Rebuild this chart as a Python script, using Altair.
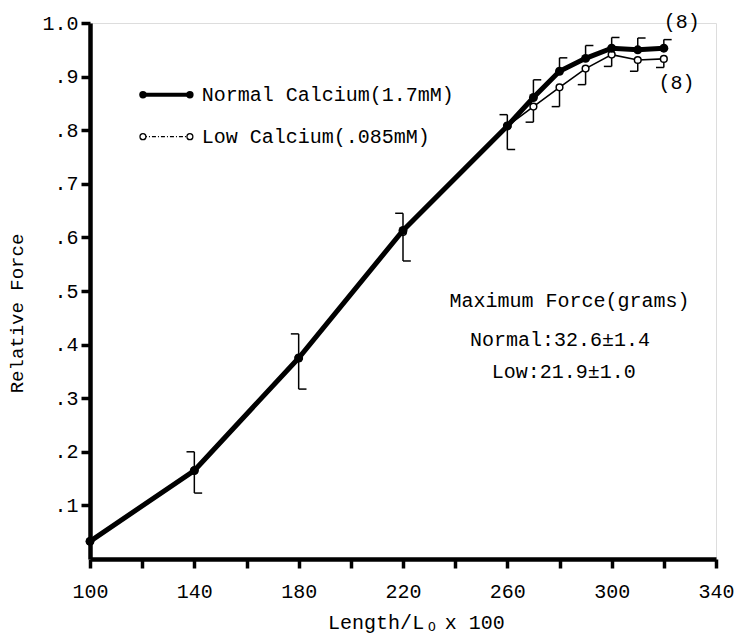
import altair as alt
import pandas as pd

# ---- data ----
lengths = [100, 140, 180, 220, 260, 270, 280, 290, 300, 310, 320]
normal_force = [0.033, 0.165, 0.375, 0.613, 0.808, 0.861, 0.910, 0.934, 0.953, 0.950, 0.953]
low_force = [0.033, 0.165, 0.375, 0.610, 0.808, 0.844, 0.880, 0.915, 0.941, 0.931, 0.933]

# shared error bars (both series overlap)
shared_err_x = [140, 180, 220, 260]
shared_err_lo = [0.123, 0.317, 0.556, 0.764]
shared_err_hi = [0.200, 0.420, 0.645, 0.829]

# upper half bars of the normal series
normal_err_x = [270, 280, 290, 300, 310, 320]
normal_err_hi = [0.894, 0.935, 0.958, 0.973, 0.972, 0.969]

# lower half bars of the low series
low_err_x = [270, 280, 290, 300, 310, 320]
low_err_lo = [0.815, 0.844, 0.885, 0.919, 0.910, 0.917]

x_ticks = [100, 120, 140, 160, 180, 200, 220, 240, 260, 280, 300, 320, 340]
y_ticks = [0.1, 0.2, 0.3, 0.4, 0.5, 0.6, 0.7, 0.8, 0.9, 1.0]

legend_labels = ["Normal Calcium(1.7mM)", "Low Calcium(.085mM)"]
notes = ["Maximum Force(grams)", "Normal:32.6\u00b11.4", "Low:21.9\u00b11.0"]
n_labels = ["(8)", "(8)"]

FONT = "Liberation Mono"
STUB = 3

# ---- tables ----
normal_df = pd.DataFrame({"x": lengths, "y": normal_force})
low_df = pd.DataFrame({"x": lengths, "y": low_force})

vert_rows = []
stub_rows = []
for xx, lo, hi in zip(shared_err_x, shared_err_lo, shared_err_hi):
    vert_rows.append({"x": xx, "y": lo, "y2": hi})
    stub_rows.append({"x": xx - STUB, "x2": xx, "y": hi})
    stub_rows.append({"x": xx, "x2": xx + STUB, "y": lo})
for xx, yv, hi in zip(normal_err_x, normal_force[5:], normal_err_hi):
    vert_rows.append({"x": xx, "y": yv, "y2": hi})
    stub_rows.append({"x": xx, "x2": xx + STUB, "y": hi})
for xx, yv, lo in zip(low_err_x, low_force[5:], low_err_lo):
    vert_rows.append({"x": xx, "y": lo, "y2": yv})
    stub_rows.append({"x": xx - STUB, "x2": xx, "y": lo})
vert_df = pd.DataFrame(vert_rows)
stub_df = pd.DataFrame(stub_rows)

leg_norm = pd.DataFrame({"x": [120.3, 138.3], "y": [0.866, 0.866]})
leg_low = pd.DataFrame({"x": [120.3, 138.3], "y": [0.788, 0.788]})
leg_text = pd.DataFrame({"x": [142.8, 142.8], "y": [0.866, 0.788], "t": legend_labels})
note_df = pd.DataFrame({"x": [237.8, 245.7, 254.0], "y": [0.481, 0.409, 0.348], "t": notes})
n_df = pd.DataFrame({"x": [326.9, 324.9], "y": [1.001, 0.888], "t": n_labels})

xt_main = pd.DataFrame({"x": [228.1], "y": [-0.120], "t": ["Length/L"]})
xt_sub = pd.DataFrame({"x": [231.1], "y": [-0.127], "t": ["O"]})
xt_end = pd.DataFrame({"x": [236.0], "y": [-0.120], "t": ["x 100"]})

xscale = alt.Scale(domain=[100, 340], nice=False, zero=False)
yscale = alt.Scale(domain=[0, 1.0], nice=False, zero=False)

xaxis = alt.Axis(
    values=x_ticks,
    labelExpr="(datum.value - 100) % 40 == 0 ? datum.label : ''",
    title=None, grid=False, labelFlush=False, labelOverlap=False,
    domainColor="black", domainWidth=4.5,
    tickColor="black", tickWidth=3.5, tickSize=9,
    labelFont=FONT, labelFontSize=20, labelColor="black", labelPadding=13,
)
yaxis = alt.Axis(
    values=y_ticks,
    labelExpr="datum.value >= 0.99 ? '1.0' : '.' + format(datum.value * 10, 'd')",
    title="Relative Force", grid=False, labelFlush=False, labelOverlap=False,
    domainColor="black", domainWidth=4.5,
    tickColor="black", tickWidth=3.5, tickSize=9,
    labelFont=FONT, labelFontSize=20, labelColor="black", labelPadding=3,
    titleFont=FONT, titleFontSize=19, titleFontWeight="normal", titleColor="black",
    titlePadding=15, titleY=290,
)


def X(field="x"):
    return alt.X(f"{field}:Q", scale=xscale, axis=xaxis)


def Y(field="y"):
    return alt.Y(f"{field}:Q", scale=yscale, axis=yaxis)


verts = alt.Chart(vert_df).mark_rule(color="black", strokeWidth=1.5).encode(
    x=X(), y=Y(), y2="y2:Q")
stubs = alt.Chart(stub_df).mark_rule(color="black", strokeWidth=1.5).encode(
    x=X(), x2="x2:Q", y=Y())

low_line = alt.Chart(low_df).mark_line(color="black", strokeWidth=1.6).encode(x=X(), y=Y())
low_pts = alt.Chart(low_df).mark_point(
    shape="circle", filled=True, fill="white", stroke="black", strokeWidth=1.5,
    size=45, opacity=1).encode(x=X(), y=Y())
norm_line = alt.Chart(normal_df).mark_line(color="black", strokeWidth=5).encode(x=X(), y=Y())
norm_pts = alt.Chart(normal_df).mark_point(
    shape="circle", filled=True, color="black", size=80, opacity=1).encode(x=X(), y=Y())

leg_n_line = alt.Chart(leg_norm).mark_line(color="black", strokeWidth=4).encode(x=X(), y=Y())
leg_n_pts = alt.Chart(leg_norm).mark_point(
    shape="circle", filled=True, color="black", size=55, opacity=1).encode(x=X(), y=Y())
leg_l_line = alt.Chart(leg_low).mark_line(
    color="black", strokeWidth=1.3, strokeDash=[4, 2, 1, 2]).encode(x=X(), y=Y())
leg_l_pts = alt.Chart(leg_low).mark_point(
    shape="circle", filled=True, fill="white", stroke="black", strokeWidth=1.3,
    size=35, opacity=1).encode(x=X(), y=Y())

txt_kw = dict(font=FONT, fontSize=20, color="black", baseline="middle")
leg_txt = alt.Chart(leg_text).mark_text(align="left", **txt_kw).encode(x=X(), y=Y(), text="t:N")
note_txt = alt.Chart(note_df).mark_text(align="left", **txt_kw).encode(x=X(), y=Y(), text="t:N")
n_txt = alt.Chart(n_df).mark_text(align="center", **txt_kw).encode(x=X(), y=Y(), text="t:N")

xt1 = alt.Chart(xt_main).mark_text(align="right", **txt_kw).encode(x=X(), y=Y(), text="t:N")
xt2 = alt.Chart(xt_sub).mark_text(align="center", font=FONT, fontSize=13, color="black",
                                  baseline="middle").encode(x=X(), y=Y(), text="t:N")
xt3 = alt.Chart(xt_end).mark_text(align="left", **txt_kw).encode(x=X(), y=Y(), text="t:N")

chart = alt.layer(
    verts, stubs, low_line, low_pts, norm_line, norm_pts,
    leg_n_line, leg_n_pts, leg_l_line, leg_l_pts,
    leg_txt, note_txt, n_txt, xt1, xt2, xt3,
).properties(
    width=626, height=536,
    autosize=alt.AutoSizeParams(type="none"),
    padding={"left": 82, "top": 15, "right": 19, "bottom": 76},
).configure_view(stroke=None).configure(background="white")

chart.save("out.html", embed_options={"renderer": "svg", "actions": False})
